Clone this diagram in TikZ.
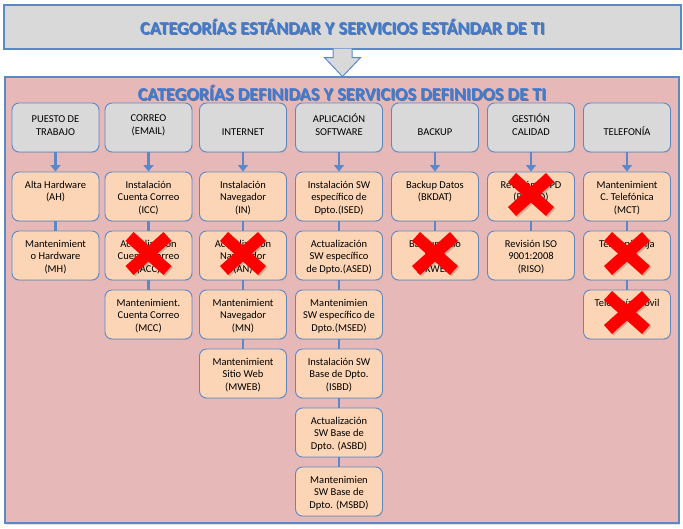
\documentclass[tikz,border=0pt]{standalone}
\usepackage{fontspec}
\setmainfont{Carlito}
\usetikzlibrary{positioning,arrows.meta,shadows}
\definecolor{azulborde}{HTML}{5B89C8}
\definecolor{grisfondo}{HTML}{D9D9D9}
\definecolor{rosafondo}{HTML}{E6B9B8}
\definecolor{melocoton}{HTML}{FBD5B5}
\definecolor{azultitulo}{HTML}{3F7BD4}
\definecolor{sombratitulo}{HTML}{34496A}
% texto del titulo con sombra
\newcommand{\sombreado}[1]{\rlap{\textcolor{sombratitulo!75}{\kern1pt\raisebox{-1pt}{#1}}}\textcolor{azultitulo}{#1}}
% cruz roja sobre un servicio
\newcommand{\tachar}[1]{%
  \draw[cruzsombra] ([shift={(-17.5,-17.5)}]#1.center) -- ([shift={(20.5,16.5)}]#1.center);
  \draw[cruzsombra] ([shift={(20.5,-17.5)}]#1.center) -- ([shift={(-17.5,16.5)}]#1.center);
  \draw[cruz] ([shift={(-19,-19)}]#1.center) -- ([shift={(19,15)}]#1.center);
  \draw[cruz] ([shift={(19,-19)}]#1.center) -- ([shift={(-19,15)}]#1.center);}
\begin{document}
\begin{tikzpicture}[x=1pt,y=-1pt,
      font=\fontsize{10.5}{12.7}\selectfont,
      marco/.style ={draw=azulborde,line width=1.2pt,fill=grisfondo,minimum width=677pt,minimum height=44pt,inner sep=0pt,
                     drop shadow={opacity=0.25,shadow xshift=0.8pt,shadow yshift=-1.2pt}},
      zona/.style  ={draw=azulborde,line width=1.2pt,fill=rosafondo,minimum width=674pt,minimum height=446pt,inner sep=0pt,
                     drop shadow={opacity=0.25,shadow xshift=0.8pt,shadow yshift=-1.5pt}},
      titulo/.style={font=\fontsize{18.3}{21}\selectfont\bfseries,inner sep=0pt},
      cat/.style   ={draw=azulborde,line width=0.9pt,rounded corners=7pt,fill=grisfondo,minimum width=87pt,minimum height=49pt,
                     inner sep=0pt,font=\fontsize{10.5}{12.8}\selectfont,drop shadow={opacity=0.2,shadow xshift=0.6pt,shadow yshift=-0.8pt}},
      srv/.style   ={draw=azulborde,line width=0.9pt,rounded corners=7pt,fill=melocoton,minimum width=87pt,minimum height=49pt,
                     inner sep=0pt,drop shadow={opacity=0.2,shadow xshift=0.6pt,shadow yshift=-0.8pt}},
      baja/.style  ={draw=azulborde,line width=2.5pt,-{Triangle[length=6.5pt,width=10pt]}},
      union/.style ={draw=azulborde,line width=2.5pt},
      bloque/.style={draw=azulborde,line width=1pt,fill=grisfondo,line join=miter},
      cruz/.style  ={draw=red,line width=12pt},
      cruzsombra/.style={draw=black,opacity=0.18,line width=12pt}]
  \useasboundingbox (0,0) rectangle (683,529);
  % Cajas generales
  \node[zona] (def) at (342,300) {};
  \node[marco] (std) at (342.5,27) {};
  \node[titulo] (tstd) at (std.center) {\sombreado{CATEGORÍAS ESTÁNDAR Y SERVICIOS ESTÁNDAR DE TI}};
  \draw[bloque] (std.south) ++(-9.5,-1) -- ++(0,9) -- ++(-8.5,0) -- ++(18,19) -- ++(18,-19) -- ++(-8.5,0) -- ++(0,-9);
  \node[titulo] (tdef) at (342,93) {\sombreado{CATEGORÍAS DEFINIDAS Y SERVICIOS DEFINIDOS DE TI}};
  % Categorias
  \foreach \x/\nom/\txt in {55.5/pt/{PUESTO DE\\TRABAJO},148.5/co/{CORREO\\(EMAIL)},243/inet/{INTERNET},
                            339/apl/{APLICACIÓN\\SOFTWARE},435/bak/{BACKUP},531/gca/{GESTIÓN\\CALIDAD},627/tel/{TELEFONÍA}}{
    \node[cat] (\nom) at (\x,127.5) {\parbox[c][23pt][b]{84pt}{\centering\txt\par\vspace{3.5pt}}};}
  % Servicios (columna x, fila)
  \newcommand{\servicio}[4]{%
    \node[srv] (#1) at (#2,{196.5+59*(#3-1)}) {\parbox[c][31pt][t]{85pt}{\centering #4}};}
  \servicio{ah}{55.5}{1}{Alta Hardware\\(AH)}
  \servicio{mh}{55.5}{2}{Mantenimient\\o Hardware\\(MH)}
  \servicio{icc}{148.5}{1}{Instalación\\Cuenta Correo\\(ICC)}
  \servicio{acc}{148.5}{2}{Actualización\\Cuenta Correo\\(ACC)}
  \servicio{mcc}{148.5}{3}{Mantenimient.\\Cuenta Correo\\(MCC)}
  \servicio{inav}{243}{1}{Instalación\\Navegador\\(IN)}
  \servicio{anav}{243}{2}{Actualización\\Navegador\\(AN)}
  \servicio{mnav}{243}{3}{Mantenimient\\Navegador\\(MN)}
  \servicio{mweb}{243}{4}{Mantenimient\\Sitio Web\\(MWEB)}
  \servicio{ised}{339}{1}{Instalación SW\\específico de\\Dpto.(ISED)}
  \servicio{ased}{339}{2}{Actualización\\SW específico\\de Dpto.(ASED)}
  \servicio{msed}{339}{3}{Mantenimien\\SW específico de\\Dpto.(MSED)}
  \servicio{isbd}{339}{4}{Instalación SW\\Base de Dpto.\\(ISBD)}
  \servicio{asbd}{339}{5}{Actualización\\SW Base de\\Dpto. (ASBD)}
  \servicio{msbd}{339}{6}{Mantenimien\\SW Base de\\Dpto. (MSBD)}
  \servicio{bkdat}{435}{1}{Backup Datos\\(BKDAT)}
  \servicio{bkweb}{435}{2}{Backup Sitio\\Web\\(BKWEB)}
  \servicio{rlopd}{531}{1}{Revisión LOPD\\(RLOPD)}
  \servicio{riso}{531}{2}{Revisión ISO\\9001:2008\\(RISO)}
  \servicio{mct}{627}{1}{Mantenimient\\C. Telefónica\\(MCT)}
  \servicio{tfija}{627}{2}{Telefonía Fija}
  \servicio{tmovil}{627}{3}{Telefonía Móvil}
  % Conexiones
  \foreach \a/\b in {pt/ah,co/icc,inet/inav,apl/ised,bak/bkdat,gca/rlopd,tel/mct}
    \draw[baja] (\a) -- (\b);
  \foreach \a/\b in {ah/mh,icc/acc,acc/mcc,inav/anav,anav/mnav,mnav/mweb,ised/ased,ased/msed,msed/isbd,
                     isbd/asbd,asbd/msbd,bkdat/bkweb,rlopd/riso,mct/tfija,tfija/tmovil}
    \draw[union] (\a) -- (\b);
  % Servicios descartados
  \foreach \n in {acc,anav,bkweb,rlopd,tfija,tmovil}{\tachar{\n}}
\end{tikzpicture}
\end{document}
